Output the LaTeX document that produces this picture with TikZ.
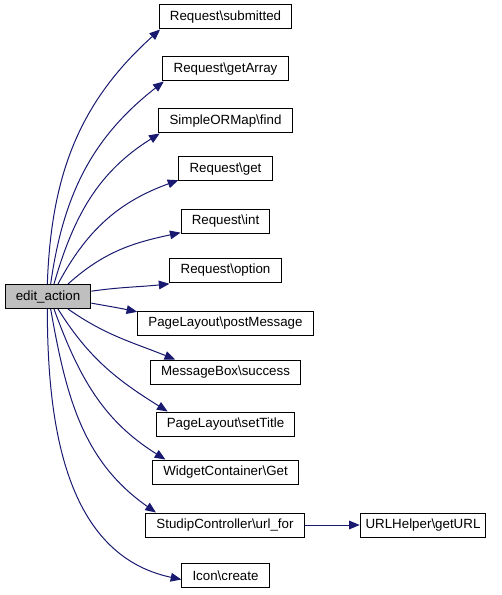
\documentclass[tikz,border=0pt]{standalone}
\usepackage{fontspec}
\setmainfont{Liberation Sans}
\usepackage{tikz}
\usetikzlibrary{arrows.meta}
\definecolor{edgeblue}{HTML}{191970}
\definecolor{curfill}{HTML}{BFBFBF}
\newcommand{\bs}{\textbackslash}

\begin{document}
\begin{tikzpicture}[x=0.75pt, y=-0.75pt,
        fn/.style = {draw = black, line width = 0.75pt, fill = white, inner xsep = 8pt,
                inner ysep = 0pt, minimum height = 18pt, font = \fontsize{10pt}{12pt}\selectfont},
        cur/.style = {fn, fill = curfill},
        call/.style = {draw = edgeblue, line width = 0.75pt, -{Triangle[length = 8pt, width = 6.5pt]}}]
        \useasboundingbox (0,0) rectangle (501,595);
        \node[cur] (edit) at (48,296.5) {edit\_action};
        \node[fn] (submitted) at (225.5,17) {Request\bs submitted};
        \node[fn] (getarray) at (225.5,69) {Request\bs getArray};
        \node[fn] (find) at (225.5,121) {SimpleORMap\bs find};
        \node[fn] (get) at (225.5,169) {Request\bs get};
        \node[fn] (int) at (225.5,221.5) {Request\bs int};
        \node[fn] (option) at (225.5,270) {Request\bs option};
        \node[fn] (postmsg) at (225.5,323) {PageLayout\bs postMessage};
        \node[fn] (success) at (225.5,372) {MessageBox\bs success};
        \node[fn] (settitle) at (225.5,424) {PageLayout\bs setTitle};
        \node[fn] (wget) at (225.5,472) {WidgetContainer\bs Get};
        \node[fn] (urlfor) at (225,525) {StudipController\bs url\_for};
        \node[fn, inner xsep = 4pt] (geturl) at (423,525) {URLHelper\bs getURL};
        \node[fn] (icon) at (225.5,575.5) {Icon\bs create};
        \draw[call] ([xshift=-0.5pt]edit.north) to[out=88, in=222] ([xshift=1pt]submitted.south west);
        \draw[call] ([xshift=2pt]edit.north) to[out=82, in=218] ([xshift=1pt]getarray.south west);
        \draw[call] ([xshift=4.5pt]edit.north) to[out=74, in=212] ([xshift=1pt]find.south west);
        \draw[call] ([xshift=7.5pt]edit.north) to[out=62, in=200] ([yshift=1pt]get.south west);
        \draw[call] ([xshift=15pt]edit.north) to[out=42, in=192] ([yshift=1pt]int.south west);
        \draw[call] ([yshift=4pt]edit.east) to[out=8, in=186] ([yshift=-1pt]option.south west);
        \draw[call] ([yshift=-5pt]edit.east) to[out=-10, in=168] ([yshift=-1pt]postmsg.north west);
        \draw[call] ([xshift=15pt]edit.south) to[out=-35, in=158] ([xshift=19pt]success.north west);
        \draw[call] ([xshift=7.5pt]edit.south) to[out=-58, in=148] ([xshift=9pt]settitle.north west);
        \draw[call] ([xshift=4.5pt]edit.south) to[out=-70, in=148] ([xshift=10pt]wget.north west);
        \draw[call] ([xshift=2pt]edit.south) to[out=-80, in=145] ([xshift=8pt]urlfor.north west);
        \draw[call] ([xshift=-0.5pt]edit.south) to[out=-90, in=168] ([yshift=-3pt]icon.west);
        \draw[call] (urlfor) -- (geturl);
\end{tikzpicture}
\end{document}
